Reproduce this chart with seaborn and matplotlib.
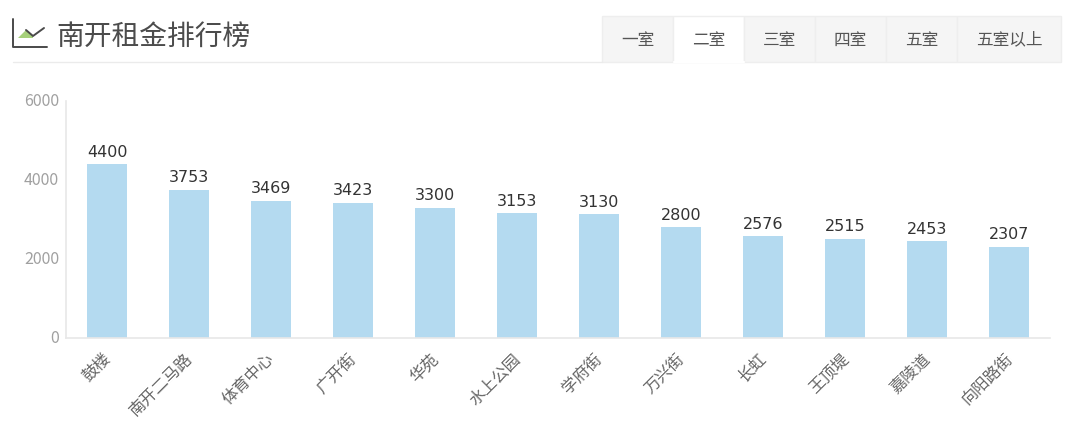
import matplotlib
matplotlib.use("Agg")
import matplotlib.pyplot as plt
from matplotlib.lines import Line2D
from matplotlib.patches import Polygon, Rectangle
from matplotlib.transforms import ScaledTranslation
import pandas as pd
import seaborn as sns

areas = ["鼓楼", "南开二马路", "体育中心", "广开街", "华苑", "水上公园",
         "学府街", "万兴街", "长虹", "王顶堤", "嘉陵道", "向阳路街"]
rents = [4400, 3753, 3469, 3423, 3300, 3153, 3130, 2800, 2576, 2515, 2453, 2307]
y_ticks = [0, 2000, 4000, 6000]
tabs = ["一室", "二室", "三室", "四室", "五室", "五室以上"]
tab_edges = [602, 673, 744, 815, 886, 957, 1061]
active_tab = 1
title = "南开租金排行榜"

W, H = 1080, 437
sns.set_theme(style="white")
plt.rcParams['font.family'] = ['Noto Sans CJK SC', 'DejaVu Sans']

fig = plt.figure(figsize=(W / 100, H / 100), dpi=100)
ax = fig.add_axes([66 / W, 1 - 338 / H, 984 / W, 237 / H])

df = pd.DataFrame({"area": areas, "rent": rents})
sns.barplot(data=df, x="area", y="rent", color="#b4daf0", saturation=1, width=0.49,
            linewidth=0, edgecolor="none", ax=ax)

ax.set_xlim(-0.5, 11.5)
ax.set_ylim(0, 6000)
ax.set_yticks(y_ticks)
ax.set_xlabel("")
ax.set_ylabel("")
for s in ["top", "right"]:
    ax.spines[s].set_visible(False)
for s in ["left", "bottom"]:
    ax.spines[s].set_color("#e8e8e8")
    ax.spines[s].set_linewidth(1.2)
ax.tick_params(axis="y", length=0, pad=5, labelsize=11.5, labelcolor="#a0a0a0")
ax.tick_params(axis="x", length=0, pad=9, labelsize=11.7, labelcolor="#666666")
shift = ScaledTranslation(-5 / 100, 0, fig.dpi_scale_trans)
for lab in ax.get_xticklabels():
    lab.set_rotation(45)
    lab.set_ha("right")
    lab.set_va("top")
    lab.set_rotation_mode("anchor")
    lab.set_transform(lab.get_transform() + shift)
y_shift = ScaledTranslation(0, 1.5 / 100, fig.dpi_scale_trans)
for lab in ax.get_yticklabels():
    lab.set_transform(lab.get_transform() + y_shift)

for i, v in enumerate(rents):
    ax.annotate(str(v), (i, v), xytext=(0, 3.3), textcoords="offset points",
                ha="center", va="bottom", fontsize=11.5, color="#333333",
                family="DejaVu Sans")

def px_x(x):
    return x / W

def px_y(y):
    return 1 - y / H

# header rule
fig.add_artist(Line2D([px_x(13), px_x(602)], [px_y(62), px_y(62)], color="#ebebeb", lw=1))

# icon
fig.add_artist(Line2D([px_x(13), px_x(13), px_x(47)], [px_y(19), px_y(46.5), px_y(46.5)],
                      color="#4a4a4a", lw=1.4))
fig.add_artist(Polygon([(px_x(18), px_y(38)), (px_x(26), px_y(30)), (px_x(33), px_y(36)),
                        (px_x(33), px_y(38))],
                       closed=True, facecolor="#a6d07a", edgecolor="none",
                       transform=fig.transFigure))
fig.add_artist(Line2D([px_x(26), px_x(33), px_x(44)],
                      [px_y(30), px_y(36), px_y(28)], color="#4a4a4a", lw=1.4))

fig.text(px_x(56), px_y(37), title, fontsize=20, color="#4c4c4c", ha="left", va="center")

# tabs
for i, name in enumerate(tabs):
    x0, x1 = tab_edges[i], tab_edges[i + 1]
    on = i == active_tab
    fig.add_artist(Rectangle((px_x(x0), px_y(62)), (x1 - x0) / W, 46 / H,
                             facecolor="white" if on else "#f5f5f5",
                             edgecolor="#eeeeee", lw=1, transform=fig.transFigure))
    fig.text(px_x((x0 + x1) / 2), px_y(40), name, fontsize=12, color="#555555",
             ha="center", va="center")
fig.add_artist(Line2D([px_x(673.5), px_x(743.5)], [px_y(62), px_y(62)], color="white", lw=1.5))

fig.savefig("out.png", dpi=100)
